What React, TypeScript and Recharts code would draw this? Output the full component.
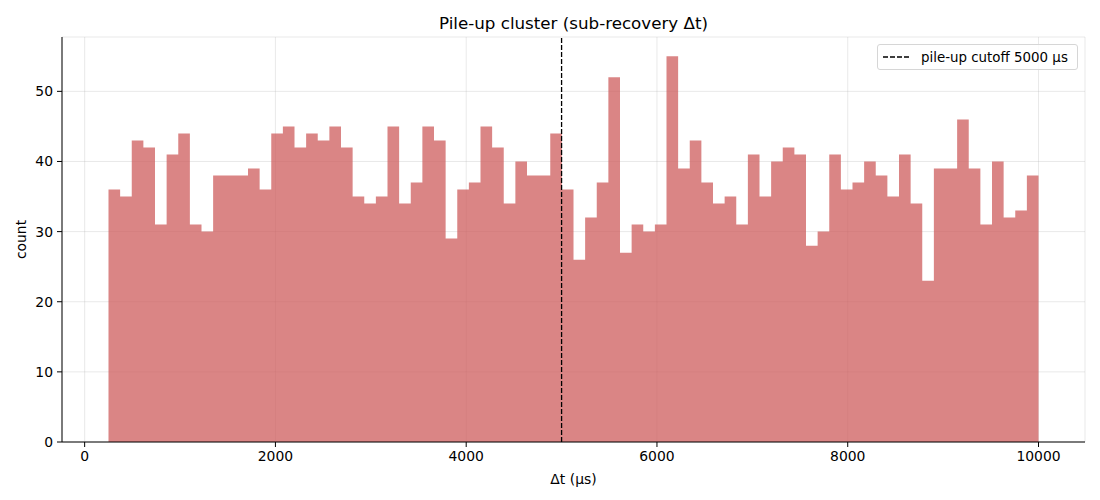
import React from "react";
import { ComposedChart, Area, XAxis, YAxis, CartesianGrid, ReferenceLine, Label } from "recharts";

// histogram: 80 bins of equal width, starting at 250 µs
const binStart = 250;
const binEnd = 10000;
const counts = [
  36, 35, 43, 42, 31, 41, 44, 31, 30, 38,
  38, 38, 39, 36, 44, 45, 42, 44, 43, 45,
  42, 35, 34, 35, 45, 34, 37, 45, 43, 29,
  36, 37, 45, 42, 34, 40, 38, 38, 44, 36,
  26, 32, 37, 52, 27, 31, 30, 31, 55, 39,
  43, 37, 34, 35, 31, 41, 35, 40, 42, 41,
  28, 30, 41, 36, 37, 40, 38, 35, 41, 34,
  23, 39, 39, 46, 39, 31, 40, 32, 33, 38,
];
const xTicks = [0, 2000, 4000, 6000, 8000, 10000];
const yTicks = [0, 10, 20, 30, 40, 50];
const cutoff = 5000;

const binWidth = (binEnd - binStart) / counts.length;
// step data: one point per left bin edge, plus the closing right edge
const histData = counts
  .map((c, i) => ({ x: binStart + i * binWidth, count: c }))
  .concat([{ x: binEnd, count: counts[counts.length - 1] }]);

const FONT = "'DejaVu Sans', sans-serif";
const tickStyle = { fill: "#000", fontSize: 13.9, fontFamily: FONT };

function LegendBox() {
  return (
    <div style={{ position: "absolute", left: 877, top: 44, width: 199, height: 24, border: "1px solid #d6d6d6", borderRadius: 3, background: "rgba(255,255,255,0.8)", display: "flex", alignItems: "center", fontFamily: FONT, fontSize: 13.4, color: "#000", whiteSpace: "nowrap" }}>
      <svg width={38} height={10} style={{ marginLeft: 5 }}>
        <line x1={0} y1={5} x2={28} y2={5} stroke="#000" strokeWidth={1.3} strokeDasharray="5 2" />
      </svg>
      <span>pile-up cutoff 5000 µs</span>
    </div>
  );
}

export default function App() {
  return (
    <div style={{ position: "fixed", left: 0, top: 0, width: 1100, height: 500, background: "#fff" }}>
      <div style={{ position: "absolute", left: 62, width: 1023, top: 13, textAlign: "center", fontFamily: FONT, fontSize: 16.7, color: "#000" }}>
        Pile-up cluster (sub-recovery Δt)
      </div>
      <ComposedChart width={1100} height={500} data={histData} margin={{ top: 37, right: 15, bottom: 0, left: 0 }}>
        <CartesianGrid stroke="#b0b0b0" strokeOpacity={0.35} strokeWidth={0.8} />
        <XAxis
          dataKey="x"
          type="number"
          domain={[-237.5, 10487.5]}
          ticks={xTicks}
          allowDataOverflow
          height={58}
          tickSize={5}
          tickMargin={4}
          stroke="#000"
          tick={tickStyle}
        >
          <Label value="Δt (µs)" position="insideBottom" offset={16} style={{ fill: "#000", fontSize: 13.9, fontFamily: FONT }} />
        </XAxis>
        <YAxis
          type="number"
          domain={[0, 57.75]}
          ticks={yTicks}
          allowDataOverflow
          width={62}
          tickSize={5}
          tickMargin={4}
          stroke="#000"
          tick={tickStyle}
        >
          <Label
            content={() => (
              <text transform="translate(26,239.5) rotate(-90)" textAnchor="middle" style={{ fill: "#000", fontSize: 13.9, fontFamily: FONT }}>
                count
              </text>
            )}
          />
        </YAxis>
        <Area
          type="stepAfter"
          dataKey="count"
          stroke="none"
          fill="#cd5c5c"
          fillOpacity={0.75}
          baseValue={0}
          isAnimationActive={false}
          dot={false}
          activeDot={false}
        />
        <ReferenceLine x={cutoff} stroke="#000" strokeWidth={1.3} strokeDasharray="5 2" />
      </ComposedChart>
      <LegendBox />
    </div>
  );
}
